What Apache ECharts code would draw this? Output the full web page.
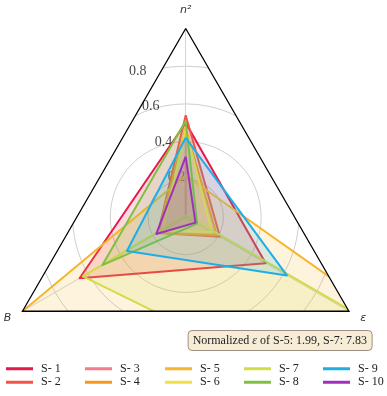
<!DOCTYPE html>
<html><head><meta charset="utf-8">
<script src="https://cdn.jsdelivr.net/npm/echarts@6/dist/echarts.min.js"></script>
<style>html,body{margin:0;padding:0;background:#fff}#c{width:387px;height:396px}</style>
</head><body><div id="c"></div>
<script>
// ---- data ----
const indicatorNames = ['n\u00B2', 'B', '\u03B5'];
const seriesNames = ['S- 1','S- 2','S- 3','S- 4','S- 5','S- 6','S- 7','S- 8','S- 9','S- 10'];
// values: [n², B, ε]
const S1  = [0.50, 0.65, 0.49];
const S2  = [0.54, 0.17, 0.21];
const S3  = [0.40, 0.00, 0.00];
const S4  = [0.47, 0.17, 0.19];
const S5  = [0.22, 1.00, 1.99];
const S6  = [0.47, 0.14, 0.16];
const S7  = [0.01, 0.63, 7.83];
const S8  = [0.51, 0.51, 0.07];
const S9  = [0.42, 0.36, 0.62];
const S10 = [0.32, 0.18, 0.06];
const seriesValues = [S1,S2,S3,S4,S5,S6,S7,S8,S9,S10];
const tickValues = [0.2, 0.4, 0.6, 0.8];
const tickLabels = ['0.2', '0.4', '0.6', '0.8'];
const noteText = ['Normalized ', '\u03B5', ' of S-5: 1.99, S-7: 7.83'];

// ---- style ----
const colors = ['#e6194b','#f25546','#f47c8c','#f39a1e','#f7b52c','#f2df46','#d2dc48','#80c040','#1eaee8','#a12fbd'];
const CX = 185.7, CY = 217, R = 188.5;

const chart = echarts.init(document.getElementById('c'));
const W = chart.getWidth(), H = chart.getHeight();
const s3 = Math.sqrt(3) / 2;
const A = [CX, CY - R], BV = [CX - R * s3, CY + R / 2], EV = [CX + R * s3, CY + R / 2];
const mask1 = [[-50,-50],[W+50,-50],[W+50,H+50],[-50,H+50],[-50,-50], A, BV, EV, A];
const mask2 = [A, [W+50, A[1]-50], [W+50, H+50], [-50, H+50], [-50, BV[1]], BV, EV];

const indicators = indicatorNames.map(n => ({ name: n, min: 0, max: 1 }));

const radarSeries = seriesNames.map((name, i) => ({
  type: 'radar', radarIndex: 0, z: 3, name: name, symbol: 'none',
  lineStyle: { color: colors[i], width: 2 },
  itemStyle: { color: colors[i] },
  areaStyle: { color: colors[i], opacity: 0.16 },
  data: [{ value: seriesValues[i], name: name }]
}));

const colLefts = [6, 85, 165, 244, 323];
const legends = colLefts.map((left, c) => ({
  left: left, top: 362, orient: 'vertical', padding: 0, itemGap: 0,
  itemWidth: 27, itemHeight: 3, icon: 'rect', z: 6,
  textStyle: { fontFamily: 'Liberation Serif', fontSize: 12, color: '#222', lineHeight: 13.5, padding: [0,0,0,3] },
  data: [seriesNames[2 * c], seriesNames[2 * c + 1]]
}));

chart.setOption({
  animation: false,
  backgroundColor: '#fff',
  title: {
    right: 15, top: 330, z: 6,
    padding: [5, 5, 4, 5],
    backgroundColor: '#f7ecd6', borderColor: '#9c9082', borderWidth: 1, borderRadius: 4,
    text: '{a|' + noteText[0] + '}{e|' + noteText[1] + '}{a|' + noteText[2] + '}',
    textStyle: {
      fontWeight: 'normal',
      rich: {
        a: { fontFamily: 'Liberation Serif', fontSize: 12, fontWeight: 'normal', color: '#222' },
        e: { fontFamily: 'Liberation Serif', fontSize: 12, fontWeight: 'normal', fontStyle: 'italic', color: '#222' }
      }
    }
  },
  legend: legends,
  radar: [
    {
      center: [CX, CY], radius: R, startAngle: 90, shape: 'circle', splitNumber: 5, z: 0,
      indicator: indicators,
      axisName: { show: false },
      splitLine: { lineStyle: { color: '#cfcfcf', width: 1 } },
      splitArea: { show: false },
      axisLine: { lineStyle: { color: '#d3d3d3', width: 1 } },
      axisTick: { show: false }, axisLabel: { show: false }
    },
    {
      center: [CX, CY], radius: R, startAngle: 90, shape: 'polygon', splitNumber: 1, z: 5,
      indicator: indicators, nameGap: 13,
      axisName: { color: '#333', fontStyle: 'italic', fontFamily: 'DejaVu Sans', fontSize: 11 },
      splitLine: { lineStyle: { color: '#000', width: 1.3 } },
      splitArea: { show: false },
      axisLine: { show: false }, axisTick: { show: false }, axisLabel: { show: false }
    }
  ],
  polar: { center: [CX, CY], radius: R },
  angleAxis: { type: 'value', min: 0, max: 360, startAngle: 90, clockwise: false, show: false },
  radiusAxis: { type: 'value', min: 0, max: 1, show: false },
  graphic: [
    { type: 'polygon', silent: true, z: 1, shape: { points: mask1 }, style: { fill: '#fff' } },
    { type: 'polygon', silent: true, z: 4, shape: { points: mask2 }, style: { fill: '#fff' } }
  ],
  series: radarSeries.concat([{
    type: 'scatter', coordinateSystem: 'polar', z: 2, silent: true,
    symbolSize: 0.1, itemStyle: { color: 'rgba(0,0,0,0)' },
    data: tickValues.map(v => [v, 20]),
    label: {
      show: true, position: [0, 0], offset: [-5, 3], align: 'left', verticalAlign: 'bottom',
      fontFamily: 'Liberation Serif', fontSize: 14, color: '#111',
      formatter: p => tickLabels[p.dataIndex]
    }
  }])
});
</script></body></html>
